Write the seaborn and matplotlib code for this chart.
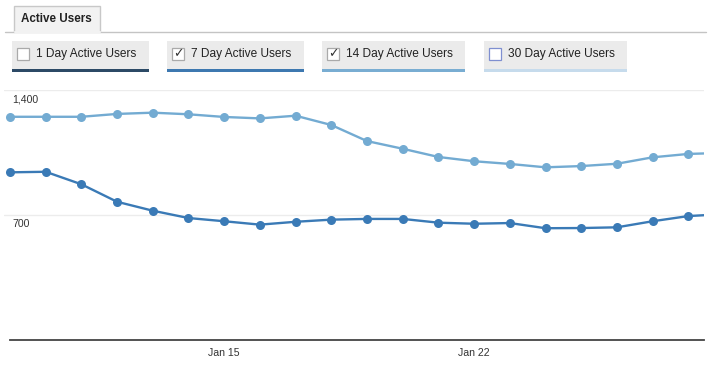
import numpy as np
import pandas as pd
import matplotlib
matplotlib.use("Agg")
import matplotlib.pyplot as plt
import matplotlib.dates as mdates
from matplotlib.patches import Rectangle
from matplotlib.lines import Line2D
import seaborn as sns

# ── data ─────────────────────────────────────────────────────────────────────
dates = ["2015-01-09", "2015-01-10", "2015-01-11", "2015-01-12", "2015-01-13",
         "2015-01-14", "2015-01-15", "2015-01-16", "2015-01-17", "2015-01-18",
         "2015-01-19", "2015-01-20", "2015-01-21", "2015-01-22", "2015-01-23",
         "2015-01-24", "2015-01-25", "2015-01-26", "2015-01-27", "2015-01-28",
         "2015-01-29"]
users_7day = [939, 942, 872, 774, 724, 683, 665, 646, 662, 674, 678,
              678, 657, 651, 655, 626, 627, 631, 665, 694, 705]
users_14day = [1250, 1250, 1250, 1266, 1273, 1264, 1249, 1241, 1256, 1204, 1114,
               1071, 1025, 1001, 986, 967, 974, 987, 1023, 1042, 1048]
y_ticks = [700, 1400]
y_tick_labels = ["700", "1,400"]
x_ticks = ["2015-01-15", "2015-01-22"]

legend_labels = ["1 Day Active Users", "7 Day Active Users",
                 "14 Day Active Users", "30 Day Active Users"]
legend_checked = [False, True, True, False]

# ── styling ──────────────────────────────────────────────────────────────────
sns.set_style("white")
plt.rcParams["font.family"] = ["Liberation Sans", "DejaVu Sans"]

C_7 = "#3a7ab6"
C_14 = "#73abd2"
underline_cols = ["#2c4a66", "#3d78b0", "#79add2", "#c6dbec"]
box_x = [12, 167, 322, 484]
box_w = [137, 137, 143, 143]

W, H = 712, 369
PX_PER_DAY = 35.7
fig = plt.figure(figsize=(W / 100, H / 100), dpi=100)


def fx(x):
    return x / W


def fy(y):
    return 1 - y / H


# plot area: x 4..704 px, y 90..340 px (from top); first point sits at x=10
ax = fig.add_axes([fx(4), fy(340), fx(700), (340 - 90) / H])

df = pd.DataFrame({
    "date": pd.to_datetime(dates * 2),
    "users": users_14day + users_7day,
    "series": ["14 Day"] * len(dates) + ["7 Day"] * len(dates),
})
sns.lineplot(data=df, x="date", y="users", hue="series",
             palette={"14 Day": C_14, "7 Day": C_7},
             marker="o", markersize=6.5, markeredgewidth=0,
             linewidth=1.7, legend=False, ax=ax)

start = pd.Timestamp(dates[0])
ax.set_xlim(start - pd.Timedelta(days=6 / PX_PER_DAY),
            start + pd.Timedelta(days=694 / PX_PER_DAY))
ax.set_ylim(0, 1400)

ax.set_yticks(y_ticks)
ax.set_yticklabels([])
ax.grid(axis="y", color="#ececec", linewidth=1)
ax.grid(axis="x", visible=False)
ax.tick_params(axis="y", length=0)
for v, lab in zip(y_ticks, y_tick_labels):
    ax.annotate(lab, xy=(0, v), xycoords=ax.get_yaxis_transform(),
                xytext=(8, -4), textcoords="offset pixels",
                ha="left", va="top", fontsize=7.6, color="#333333")

ax.set_xticks(pd.to_datetime(x_ticks))
ax.xaxis.set_major_formatter(mdates.DateFormatter("%b %d"))
ax.tick_params(axis="x", length=0, pad=6, labelsize=7.6, labelcolor="#333333")
ax.set_xlabel("")
ax.set_ylabel("")

sns.despine(ax=ax, left=True)
ax.spines["bottom"].set_color("#444444")
ax.spines["bottom"].set_linewidth(1.3)
ax.spines["bottom"].set_bounds(mdates.date2num(start), ax.get_xlim()[1])

# ── tab header ───────────────────────────────────────────────────────────────
fig.add_artist(Line2D([fx(5), fx(14)], [fy(32), fy(32)], color="#c4c4c4", lw=1))
fig.add_artist(Line2D([fx(100), fx(706)], [fy(32), fy(32)], color="#c4c4c4", lw=1))
fig.add_artist(Rectangle((fx(14), fy(32)), fx(86), (32 - 6) / H,
                         facecolor="#f2f2f2", edgecolor="#c8c8c8", lw=1))
fig.add_artist(Line2D([fx(14.5), fx(99.5)], [fy(32), fy(32)], color="#f2f2f2", lw=1.5))
fig.text(fx(21), fy(19), "Active Users", fontsize=8.4, fontweight="bold",
         color="#222222", va="center", ha="left")

# ── series toggle boxes ──────────────────────────────────────────────────────
for x0, w, lab, chk, uc in zip(box_x, box_w, legend_labels,
                               legend_checked, underline_cols):
    fig.add_artist(Rectangle((fx(x0), fy(69)), fx(w), (69 - 41) / H,
                             facecolor="#ebebeb", edgecolor="none"))
    fig.add_artist(Rectangle((fx(x0), fy(72)), fx(w), 3 / H,
                             facecolor=uc, edgecolor="none"))
    edge = "#7f8fd0" if (not chk and uc == underline_cols[3]) else "#aaaaaa"
    fig.add_artist(Rectangle((fx(x0 + 5), fy(60)), fx(12), 12 / H,
                             facecolor="white", edgecolor=edge, lw=0.9))
    if chk:
        fig.text(fx(x0 + 11), fy(54), "\u2713", fontsize=9,
                 family=["DejaVu Sans"], color="#333333",
                 ha="center", va="center")
    fig.text(fx(x0 + 24), fy(54), lab, fontsize=8.6, color="#222222",
             ha="left", va="center")

fig.savefig("out.png", dpi=100)
